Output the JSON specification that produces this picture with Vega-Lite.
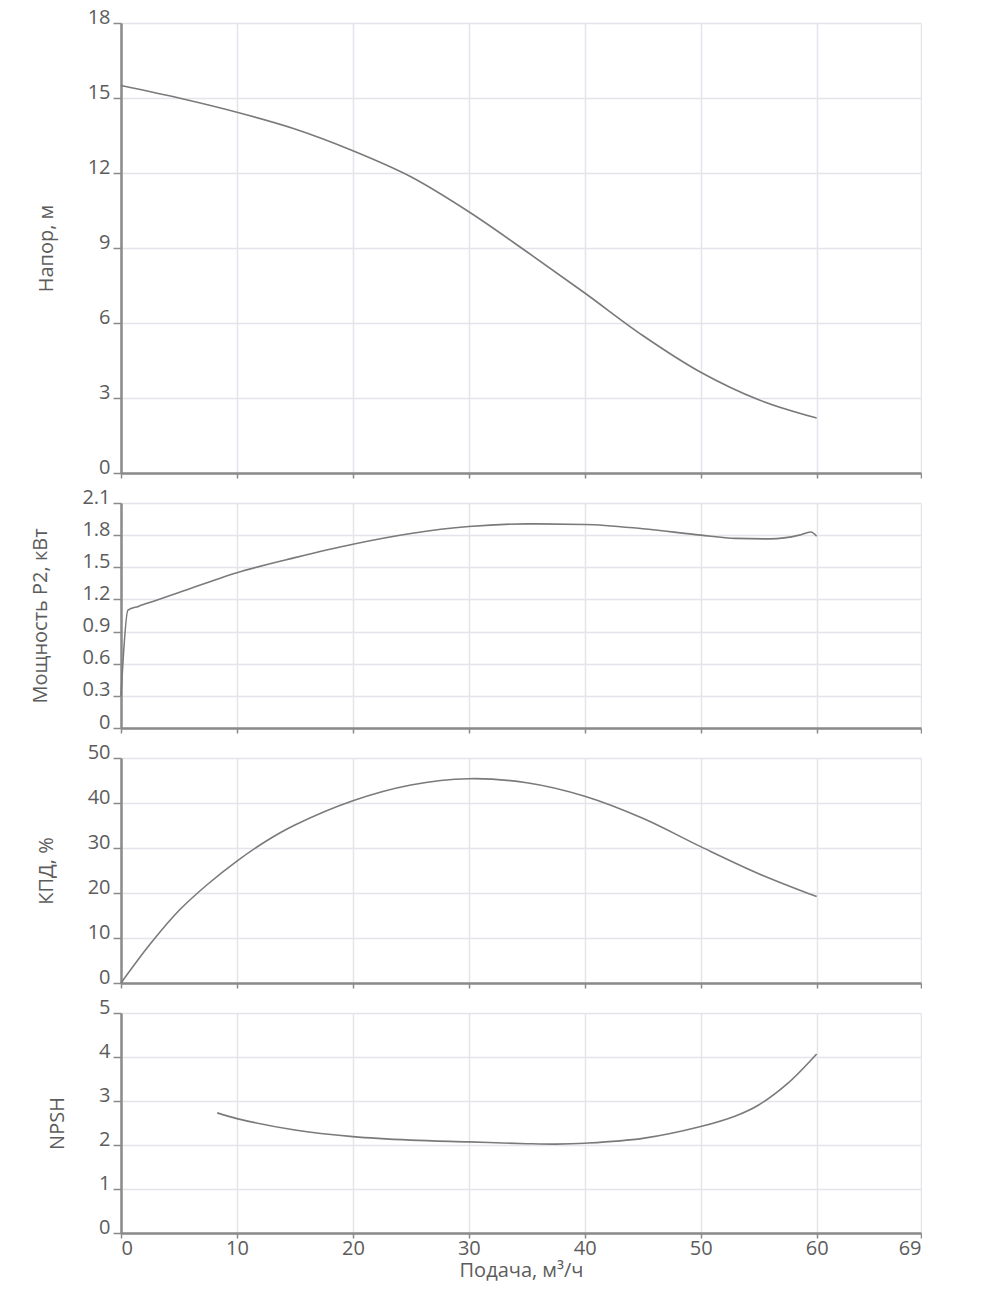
{
  "$schema": "https://vega.github.io/schema/vega-lite/v6.json",
  "padding": {"left": 30, "top": 7, "right": 0, "bottom": 50},
  "background": "white",
  "datasets": {
    "head": [
      {"q": 0, "v": 15.5},
      {"q": 5, "v": 15.0},
      {"q": 10, "v": 14.43},
      {"q": 15, "v": 13.76},
      {"q": 20, "v": 12.89},
      {"q": 25, "v": 11.85},
      {"q": 30, "v": 10.45},
      {"q": 35, "v": 8.85},
      {"q": 40, "v": 7.2},
      {"q": 45, "v": 5.5},
      {"q": 50, "v": 4.03},
      {"q": 55, "v": 2.93},
      {"q": 60, "v": 2.2}
    ],
    "power": [
      {"q": 0, "v": 0.3},
      {"q": 0.6, "v": 1.1},
      {"q": 1.5, "v": 1.135},
      {"q": 3, "v": 1.19},
      {"q": 5, "v": 1.265},
      {"q": 10, "v": 1.45},
      {"q": 15, "v": 1.59},
      {"q": 20, "v": 1.715},
      {"q": 25, "v": 1.815},
      {"q": 30, "v": 1.88},
      {"q": 35, "v": 1.905},
      {"q": 40, "v": 1.9},
      {"q": 45, "v": 1.86},
      {"q": 50, "v": 1.8},
      {"q": 53, "v": 1.77},
      {"q": 56, "v": 1.765},
      {"q": 58.5, "v": 1.8},
      {"q": 59.5, "v": 1.83},
      {"q": 60, "v": 1.79}
    ],
    "eff": [
      {"q": 0, "v": 0},
      {"q": 2.5, "v": 8.6},
      {"q": 5, "v": 16.1},
      {"q": 7.5, "v": 22.0},
      {"q": 10, "v": 27.1},
      {"q": 12.5, "v": 31.5},
      {"q": 15, "v": 35.1},
      {"q": 20, "v": 40.5},
      {"q": 25, "v": 44.0},
      {"q": 30, "v": 45.4},
      {"q": 35, "v": 44.5},
      {"q": 40, "v": 41.5},
      {"q": 45, "v": 36.6},
      {"q": 50, "v": 30.3},
      {"q": 55, "v": 24.3},
      {"q": 60, "v": 19.2}
    ],
    "npsh": [
      {"q": 8.3, "v": 2.73},
      {"q": 10, "v": 2.6},
      {"q": 15, "v": 2.34},
      {"q": 20, "v": 2.19},
      {"q": 25, "v": 2.11},
      {"q": 30, "v": 2.07},
      {"q": 35, "v": 2.03},
      {"q": 37.5, "v": 2.02},
      {"q": 40, "v": 2.04},
      {"q": 45, "v": 2.15},
      {"q": 50, "v": 2.42},
      {"q": 53, "v": 2.66},
      {"q": 55, "v": 2.91},
      {"q": 57.5, "v": 3.4},
      {"q": 60, "v": 4.07}
    ]
  },
  "vconcat": [
    {
      "width": 800,
      "height": 450,
      "data": {"name": "head"},
      "mark": {"type": "line", "interpolate": "catmull-rom", "color": "#7a7a7a", "strokeWidth": 1.6},
      "encoding": {
        "x": {"field": "q", "type": "quantitative", "scale": {"domain": [0, 69], "nice": false}, "axis": {"values": [0, 10, 20, 30, 40, 50, 60, 69], "labels": false, "title": null}},
        "y": {"field": "v", "type": "quantitative", "scale": {"domain": [0, 18], "nice": false}, "axis": {"values": [0, 3, 6, 9, 12, 15, 18], "title": "Напор, м"}}
      }
    },
    {
      "width": 800,
      "height": 225,
      "data": {"name": "power"},
      "mark": {"type": "line", "interpolate": "monotone", "color": "#7a7a7a", "strokeWidth": 1.6},
      "encoding": {
        "x": {"field": "q", "type": "quantitative", "scale": {"domain": [0, 69], "nice": false}, "axis": {"values": [0, 10, 20, 30, 40, 50, 60, 69], "labels": false, "title": null}},
        "y": {"field": "v", "type": "quantitative", "scale": {"domain": [0, 2.1], "nice": false}, "axis": {"values": [0, 0.3, 0.6, 0.9, 1.2, 1.5, 1.8, 2.1], "format": ".1~f", "title": "Мощность Р2, кВт"}}
      }
    },
    {
      "width": 800,
      "height": 225,
      "data": {"name": "eff"},
      "mark": {"type": "line", "interpolate": "catmull-rom", "color": "#7a7a7a", "strokeWidth": 1.6},
      "encoding": {
        "x": {"field": "q", "type": "quantitative", "scale": {"domain": [0, 69], "nice": false}, "axis": {"values": [0, 10, 20, 30, 40, 50, 60, 69], "labels": false, "title": null}},
        "y": {"field": "v", "type": "quantitative", "scale": {"domain": [0, 50], "nice": false}, "axis": {"values": [0, 10, 20, 30, 40, 50], "title": "КПД, %"}}
      }
    },
    {
      "width": 800,
      "height": 220,
      "data": {"name": "npsh"},
      "mark": {"type": "line", "interpolate": "catmull-rom", "color": "#7a7a7a", "strokeWidth": 1.6},
      "encoding": {
        "x": {"field": "q", "type": "quantitative", "scale": {"domain": [0, 69], "nice": false}, "axis": {"values": [0, 10, 20, 30, 40, 50, 60, 69], "title": "Подача, м³/ч", "titlePadding": 2}},
        "y": {"field": "v", "type": "quantitative", "scale": {"domain": [0, 5], "nice": false}, "axis": {"values": [0, 1, 2, 3, 4, 5], "title": "NPSH"}}
      }
    }
  ],
  "spacing": 30,
  "bounds": "flush",
  "config": {
    "view": {"stroke": null},
    "axis": {
      "domainColor": "#8a8a8a",
      "domainWidth": 2.5,
      "tickColor": "#8a8a8a",
      "tickWidth": 1.5,
      "gridColor": "#e4e4ea",
      "gridWidth": 1.5,
      "labelFont": "Open Sans",
      "labelFontSize": 20,
      "labelColor": "#5c5c5c",
      "titleFont": "Open Sans",
      "titleFontSize": 20,
      "titleColor": "#5c5c5c",
      "titleFontWeight": "normal"
    },
    "axisY": {"tickSize": 8, "labelPadding": 3, "labelBaseline": "alphabetic", "titlePadding": 31},
    "axisX": {"tickSize": 5, "labelPadding": 0}
  }
}
